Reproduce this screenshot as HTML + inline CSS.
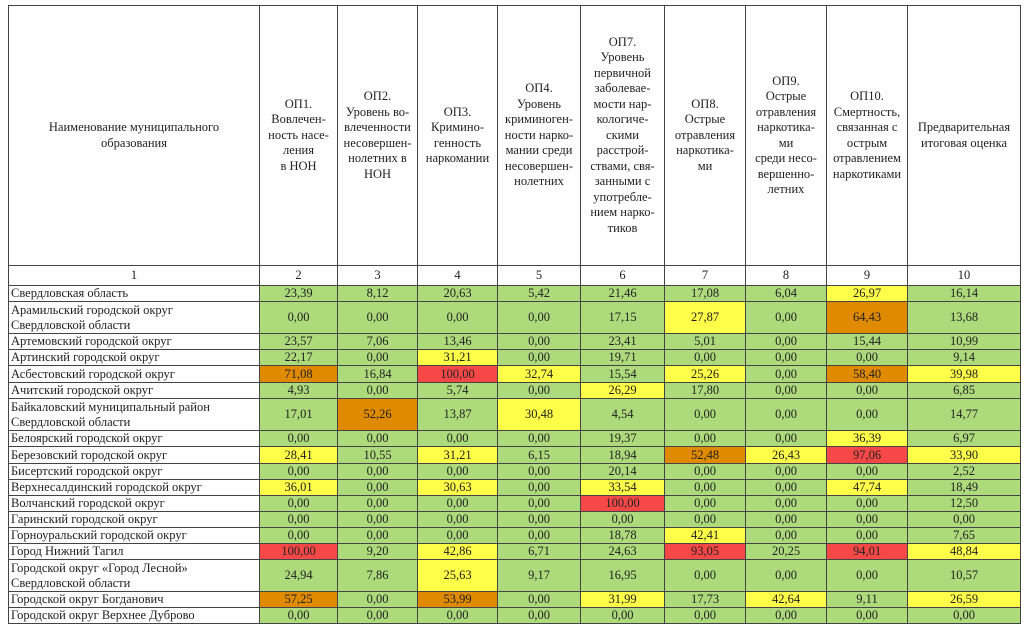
<!DOCTYPE html>
<html><head><meta charset="utf-8"><style>
html,body{margin:0;padding:0;background:#fff;width:1024px;height:635px;overflow:hidden}
table{position:absolute;left:8px;top:5px;border-collapse:collapse;table-layout:fixed;font-family:"Liberation Serif","DejaVu Serif",serif;font-size:12.5px;color:#222}
td{border:1px solid #444;padding:0;text-align:center;vertical-align:middle;line-height:13px;overflow:hidden}
td.n{text-align:left;padding-left:2px}
td.n2{line-height:15px}
thead td{line-height:15.5px}
.g{background:#addb7c}.y{background:#ffff4a}.o{background:#e08a00}.r{background:#f74848}
</style></head><body>
<table>
<colgroup><col style="width:251px"><col style="width:78px"><col style="width:80px"><col style="width:80px"><col style="width:83px"><col style="width:84px"><col style="width:81px"><col style="width:81px"><col style="width:81px"><col style="width:113px"></colgroup>
<thead>
<tr style="height:260px"><td>Наименование муниципального<br>образования</td><td>ОП1.<br>Вовлечен-<br>ность насе-<br>ления<br>в НОН</td><td>ОП2.<br>Уровень во-<br>влеченности<br>несовершен-<br>нолетних в<br>НОН</td><td>ОП3.<br>Кримино-<br>генность<br>наркомании</td><td>ОП4.<br>Уровень<br>криминоген-<br>ности нарко-<br>мании среди<br>несовершен-<br>нолетних</td><td>ОП7.<br>Уровень<br>первичной<br>заболевае-<br>мости нар-<br>кологиче-<br>скими<br>расстрой-<br>ствами, свя-<br>занными с<br>употребле-<br>нием нарко-<br>тиков</td><td>ОП8.<br>Острые<br>отравления<br>наркотика-<br>ми</td><td>ОП9.<br>Острые<br>отравления<br>наркотика-<br>ми<br>среди несо-<br>вершенно-<br>летних</td><td>ОП10.<br>Смертность,<br>связанная с<br>острым<br>отравлением<br>наркотиками</td><td>Предварительная<br>итоговая оценка</td></tr>
<tr style="height:20px"><td>1</td><td>2</td><td>3</td><td>4</td><td>5</td><td>6</td><td>7</td><td>8</td><td>9</td><td>10</td></tr>
</thead>
<tbody>
<tr style="height:16px"><td class="n">Свердловская область</td><td class="g">23,39</td><td class="g">8,12</td><td class="g">20,63</td><td class="g">5,42</td><td class="g">21,46</td><td class="g">17,08</td><td class="g">6,04</td><td class="y">26,97</td><td class="g">16,14</td></tr>
<tr style="height:32px"><td class="n n2">Арамильский городской округ<br>Свердловской области</td><td class="g">0,00</td><td class="g">0,00</td><td class="g">0,00</td><td class="g">0,00</td><td class="g">17,15</td><td class="y">27,87</td><td class="g">0,00</td><td class="o">64,43</td><td class="g">13,68</td></tr>
<tr style="height:16px"><td class="n">Артемовский городской округ</td><td class="g">23,57</td><td class="g">7,06</td><td class="g">13,46</td><td class="g">0,00</td><td class="g">23,41</td><td class="g">5,01</td><td class="g">0,00</td><td class="g">15,44</td><td class="g">10,99</td></tr>
<tr style="height:16px"><td class="n">Артинский городской округ</td><td class="g">22,17</td><td class="g">0,00</td><td class="y">31,21</td><td class="g">0,00</td><td class="g">19,71</td><td class="g">0,00</td><td class="g">0,00</td><td class="g">0,00</td><td class="g">9,14</td></tr>
<tr style="height:17px"><td class="n">Асбестовский городской округ</td><td class="o">71,08</td><td class="g">16,84</td><td class="r">100,00</td><td class="y">32,74</td><td class="g">15,54</td><td class="y">25,26</td><td class="g">0,00</td><td class="o">58,40</td><td class="y">39,98</td></tr>
<tr style="height:16px"><td class="n">Ачитский городской округ</td><td class="g">4,93</td><td class="g">0,00</td><td class="g">5,74</td><td class="g">0,00</td><td class="y">26,29</td><td class="g">17,80</td><td class="g">0,00</td><td class="g">0,00</td><td class="g">6,85</td></tr>
<tr style="height:32px"><td class="n n2">Байкаловский муниципальный район<br>Свердловской области</td><td class="g">17,01</td><td class="o">52,26</td><td class="g">13,87</td><td class="y">30,48</td><td class="g">4,54</td><td class="g">0,00</td><td class="g">0,00</td><td class="g">0,00</td><td class="g">14,77</td></tr>
<tr style="height:16px"><td class="n">Белоярский городской округ</td><td class="g">0,00</td><td class="g">0,00</td><td class="g">0,00</td><td class="g">0,00</td><td class="g">19,37</td><td class="g">0,00</td><td class="g">0,00</td><td class="y">36,39</td><td class="g">6,97</td></tr>
<tr style="height:17px"><td class="n">Березовский городской округ</td><td class="y">28,41</td><td class="g">10,55</td><td class="y">31,21</td><td class="g">6,15</td><td class="g">18,94</td><td class="o">52,48</td><td class="y">26,43</td><td class="r">97,06</td><td class="y">33,90</td></tr>
<tr style="height:16px"><td class="n">Бисертский городской округ</td><td class="g">0,00</td><td class="g">0,00</td><td class="g">0,00</td><td class="g">0,00</td><td class="g">20,14</td><td class="g">0,00</td><td class="g">0,00</td><td class="g">0,00</td><td class="g">2,52</td></tr>
<tr style="height:16px"><td class="n">Верхнесалдинский городской округ</td><td class="y">36,01</td><td class="g">0,00</td><td class="y">30,63</td><td class="g">0,00</td><td class="y">33,54</td><td class="g">0,00</td><td class="g">0,00</td><td class="y">47,74</td><td class="g">18,49</td></tr>
<tr style="height:16px"><td class="n">Волчанский городской округ</td><td class="g">0,00</td><td class="g">0,00</td><td class="g">0,00</td><td class="g">0,00</td><td class="r">100,00</td><td class="g">0,00</td><td class="g">0,00</td><td class="g">0,00</td><td class="g">12,50</td></tr>
<tr style="height:16px"><td class="n">Гаринский городской округ</td><td class="g">0,00</td><td class="g">0,00</td><td class="g">0,00</td><td class="g">0,00</td><td class="g">0,00</td><td class="g">0,00</td><td class="g">0,00</td><td class="g">0,00</td><td class="g">0,00</td></tr>
<tr style="height:16px"><td class="n">Горноуральский городской округ</td><td class="g">0,00</td><td class="g">0,00</td><td class="g">0,00</td><td class="g">0,00</td><td class="g">18,78</td><td class="y">42,41</td><td class="g">0,00</td><td class="g">0,00</td><td class="g">7,65</td></tr>
<tr style="height:16px"><td class="n">Город Нижний Тагил</td><td class="r">100,00</td><td class="g">9,20</td><td class="y">42,86</td><td class="g">6,71</td><td class="g">24,63</td><td class="r">93,05</td><td class="g">20,25</td><td class="r">94,01</td><td class="y">48,84</td></tr>
<tr style="height:32px"><td class="n n2">Городской округ «Город Лесной»<br>Свердловской области</td><td class="g">24,94</td><td class="g">7,86</td><td class="y">25,63</td><td class="g">9,17</td><td class="g">16,95</td><td class="g">0,00</td><td class="g">0,00</td><td class="g">0,00</td><td class="g">10,57</td></tr>
<tr style="height:16px"><td class="n">Городской округ Богданович</td><td class="o">57,25</td><td class="g">0,00</td><td class="o">53,99</td><td class="g">0,00</td><td class="y">31,99</td><td class="g">17,73</td><td class="y">42,64</td><td class="g">9,11</td><td class="y">26,59</td></tr>
<tr style="height:16px"><td class="n">Городской округ Верхнее Дуброво</td><td class="g">0,00</td><td class="g">0,00</td><td class="g">0,00</td><td class="g">0,00</td><td class="g">0,00</td><td class="g">0,00</td><td class="g">0,00</td><td class="g">0,00</td><td class="g">0,00</td></tr>
</tbody></table>
</body></html>
